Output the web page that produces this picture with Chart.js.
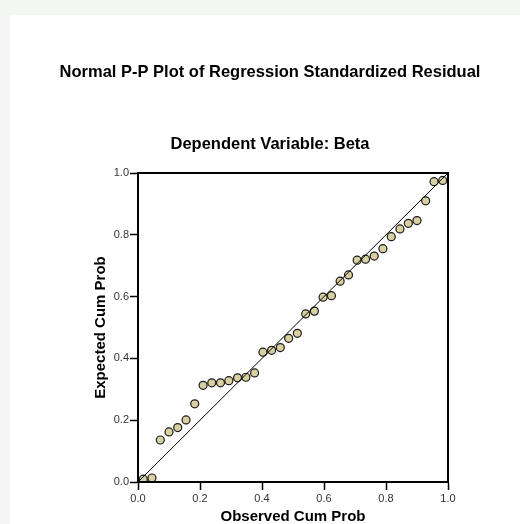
<!DOCTYPE html>
<html>
<head>
<meta charset="utf-8">
<script src="https://cdn.jsdelivr.net/npm/chart.js@4"></script>
<style>
  html, body { margin: 0; padding: 0; background: #fff; }
  #wrap { width: 520px; height: 524px; position: relative; }
</style>
</head>
<body>
<div id="wrap"><canvas id="ppChart" width="520" height="524"></canvas></div>
<script>
const mainTitle = 'Normal P-P Plot of Regression Standardized Residual';
const subTitle = 'Dependent Variable: Beta';
const xTitle = 'Observed Cum Prob';
const yTitle = 'Expected Cum Prob';
const tickValues = [0.0, 0.2, 0.4, 0.6, 0.8, 1.0];

// observed cumulative probability of each residual
const observedCum = [
    0.017, 0.045, 0.072, 0.100, 0.128, 0.155, 0.183, 0.210, 0.238, 0.266, 0.293, 0.321,
    0.348, 0.376, 0.403, 0.431, 0.459, 0.486, 0.514, 0.541, 0.569, 0.597, 0.624, 0.652,
    0.679, 0.707, 0.734, 0.762, 0.790, 0.817, 0.845, 0.872, 0.900, 0.928, 0.955, 0.983
];
// expected cumulative probability under normality
const expectedCum = [
    0.009, 0.013, 0.136, 0.162, 0.176, 0.201, 0.253, 0.313, 0.321, 0.321, 0.328, 0.337,
    0.339, 0.353, 0.420, 0.426, 0.435, 0.465, 0.481, 0.544, 0.553, 0.598, 0.603, 0.650,
    0.670, 0.718, 0.721, 0.731, 0.755, 0.794, 0.819, 0.837, 0.846, 0.910, 0.972, 0.976
];
// reference diagonal
const refLineX = [0, 1];
const refLineY = [0, 1];

const FONT = "'Liberation Sans', Arial, sans-serif";

const decoPlugin = {
    id: 'deco',
    beforeDraw(chart) {
        const ctx = chart.ctx;
        ctx.save();
        ctx.fillStyle = '#ffffff';
        ctx.fillRect(0, 0, chart.width, chart.height);
        ctx.fillStyle = '#f4f6f4';
        ctx.fillRect(0, 0, chart.width, 15);
        ctx.fillRect(0, 0, 10, chart.height);
        ctx.restore();
    },
    afterDraw(chart) {
        const ctx = chart.ctx;
        const a = chart.chartArea;
        ctx.save();
        ctx.strokeStyle = '#000';
        ctx.lineWidth = 2;
        ctx.strokeRect(a.left, a.top, a.right - a.left, a.bottom - a.top);
        ctx.fillStyle = '#000';
        ctx.textAlign = 'center';
        ctx.textBaseline = 'middle';
        ctx.font = 'bold 16.5px ' + FONT;
        ctx.fillText(mainTitle, 270, 72);
        ctx.fillText(subTitle, 270, 144);
        ctx.restore();
    }
};

new Chart(document.getElementById('ppChart'), {
    type: 'scatter',
    data: {
        datasets: [
            {
                type: 'line',
                data: refLineX.map((x, i) => ({ x: x, y: refLineY[i] })),
                borderColor: '#000',
                borderWidth: 1,
                pointRadius: 0,
                fill: false,
            },
            {
                data: observedCum.map((x, i) => ({ x: x, y: expectedCum[i] })),
                backgroundColor: '#d8d0a0',
                borderColor: '#1a1a1a',
                borderWidth: 1.2,
                pointRadius: 4,
            },
        ]
    },
    options: {
        responsive: false,
        animation: false,
        layout: { padding: { left: 80, right: 72, top: 173, bottom: 0 } },
        plugins: {
            legend: { display: false },
            tooltip: { enabled: false }
        },
        scales: {
            x: {
                type: 'linear', min: 0, max: 1,
                afterFit: s => { s.height = 42; },
                afterBuildTicks: s => { s.ticks = tickValues.map(v => ({ value: v })); },
                grid: { drawOnChartArea: false, drawTicks: true, tickLength: 8, color: '#000', tickWidth: 1.5 },
                border: { display: true, color: '#000', width: 2 },
                ticks: {
                    padding: 2, color: '#333',
                    font: { family: FONT, size: 11 },
                    callback: v => v.toFixed(1)
                },
                title: {
                    display: true, text: xTitle, color: '#000',
                    padding: { top: 0, bottom: 0 },
                    font: { family: FONT, size: 15, weight: 'bold', lineHeight: 1 }
                }
            },
            y: {
                type: 'linear', min: 0, max: 1,
                afterFit: s => { s.width = 58; },
                afterBuildTicks: s => { s.ticks = tickValues.map(v => ({ value: v })); },
                grid: { drawOnChartArea: false, drawTicks: true, tickLength: 8, color: '#000', tickWidth: 1.5 },
                border: { display: true, color: '#000', width: 2 },
                ticks: {
                    padding: 1, color: '#333',
                    font: { family: FONT, size: 11 },
                    callback: v => v.toFixed(1)
                },
                title: {
                    display: true, text: yTitle, color: '#000',
                    padding: { top: 12, bottom: 0 },
                    font: { family: FONT, size: 15, weight: 'bold', lineHeight: 1.2 }
                }
            }
        }
    },
    plugins: [decoPlugin]
});
</script>
</body>
</html>
